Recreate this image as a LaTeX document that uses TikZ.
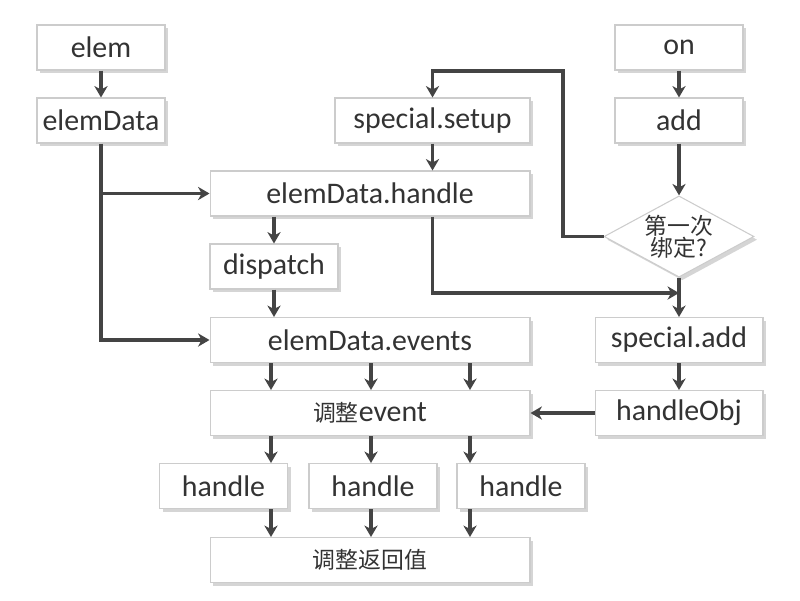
\documentclass[tikz,border=0pt]{standalone}
\usepackage{fontspec}
\setmainfont{Carlito}
\newfontfamily\cjk{Noto Sans CJK SC}
\usetikzlibrary{shapes.geometric,shadows,arrows.meta}
\definecolor{linegray}{HTML}{444444}
\definecolor{textgray}{HTML}{333333}

\begin{document}
\begin{tikzpicture}[x=0.02cm,y=-0.02cm,
  box/.style={draw=gray!40,fill=white,line width=0.6pt,minimum height=0.9cm,
    inner sep=0pt,text=textgray,font=\fontsize{17}{20}\selectfont,
    drop shadow={shadow xshift=1.8pt,shadow yshift=-1.8pt,fill=gray!65}},
  small/.style={box,minimum width=2.56cm},
  wide/.style={box,minimum width=6.4cm},
  ask/.style={diamond,draw=gray!40,fill=white,line width=0.6pt,aspect=1.8,
    minimum width=3cm,inner sep=0pt,align=center,text=textgray,
    font=\cjk\fontsize{13}{14.5}\selectfont,
    drop shadow={shadow xshift=1.8pt,shadow yshift=-1.8pt,fill=gray!65}},
  arr/.style={draw=linegray,line width=1.9pt,
    -{Stealth[length=6.5pt,width=7.5pt,inset=2pt]}}]
  \useasboundingbox (0,0) rectangle (800,600);

  \node[small] (elem)     at (101,47.5)  {elem};
  \node[small] (elemData) at (101,120.5) {elemData};
  \node[box,minimum width=3.9cm] (setup) at (432.5,120.5) {special.setup};
  \node[wide]  (handle)   at (370,193.5) {elemData.handle};
  \node[small] (dispatch) at (274,266.5) {dispatch};
  \node[small] (on)       at (679,47.5)  {on};
  \node[small] (add)      at (679,120.5) {add};
  \node[ask]   (first)    at (679,236.5) {第一次\\[-2pt]绑定?};
  \node[box,minimum width=3.36cm] (sadd) at (679,340) {special.add};
  \node[box,minimum width=3.36cm] (hobj) at (679,413) {handleObj};
  \node[wide]  (events)   at (370,340)   {elemData.events};
  \node[wide]  (fix)      at (370,413)   {{\cjk\fontsize{13}{14.5}\selectfont 调整}event};
  \node[small] (h1)       at (223.5,486) {handle};
  \node[small] (h2)       at (373,486)   {handle};
  \node[small] (h3)       at (521,486)   {handle};
  \node[wide]  (ret)      at (370,560)   {\cjk\fontsize{13}{14.5}\selectfont 调整返回值};

  \coordinate (loop) at (563,71);
  \coordinate (join) at (679,293);

  \draw[arr] (elem) -- (elemData);
  \draw[arr] (elemData.south) |- (events.west);
  \draw[arr] (elemData.south |- handle.west) -- (handle.west);
  \draw[arr] (setup) -- (setup.south |- handle.north);
  \draw[arr] (dispatch.north |- handle.south) -- (dispatch);
  \draw[arr] (dispatch) -- (dispatch.south |- events.north);
  \draw[arr] (setup.south |- handle.south) |- (join);
  \draw[arr] (on) -- (add);
  \draw[arr] (add) -- (first);
  \draw[arr] (first) -- (sadd);
  \draw[arr] (sadd) -- (hobj);
  \draw[arr] (hobj) -- (fix);
  \draw[arr] (first.west) -| (loop) -| (setup.north);
  \foreach \c/\h in {271/h1,371/h2,470/h3} {
    \draw[arr] (events.south -| \c,0) -- (fix.north -| \c,0);
    \draw[arr] (fix.south -| \c,0) -- (\h.north -| \c,0);
    \draw[arr] (\h.south -| \c,0) -- (ret.north -| \c,0);
  }
\end{tikzpicture}
\end{document}
